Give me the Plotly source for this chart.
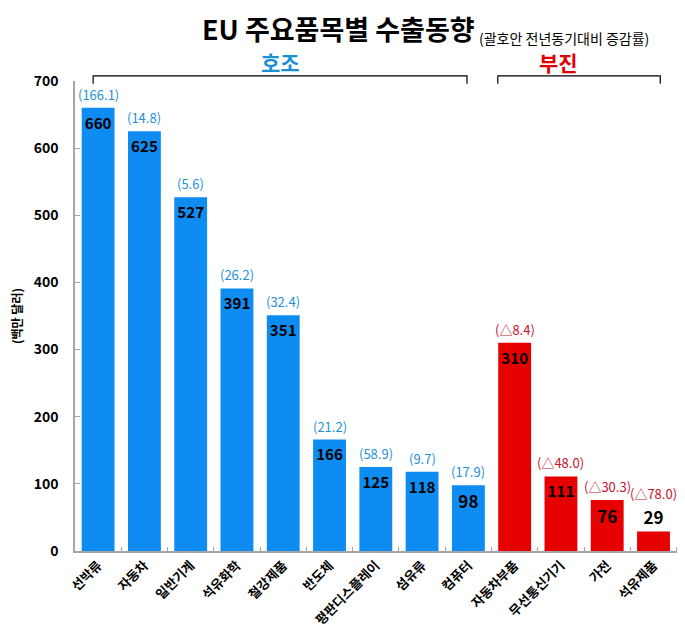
"""
EU 주요품목별 수출동향 bar chart.
"""

import plotly.graph_objects as go

# Data
ITEMS = ['선박류', '자동차', '일반기계', '석유화학', '철강제품', '반도체', '평판디스플레이',
         '섬유류', '컴퓨터', '자동차부품', '무선통신기기', '가전', '석유제품']
EXPORTS = [660, 625, 527, 391, 351, 166, 125, 118, 98, 310, 111, 76, 29]
GROWTH = ['(166.1)', '(14.8)', '(5.6)', '(26.2)', '(32.4)', '(21.2)', '(58.9)',
          '(9.7)', '(17.9)', '(△8.4)', '(△48.0)', '(△30.3)', '(△78.0)']
GROUP = ['호조'] * 9 + ['부진'] * 4
Y_TICKS = [0, 100, 200, 300, 400, 500, 600, 700]

FONT = 'Noto Sans CJK KR'
BLUE = '#0f8cf2'
RED = '#e60000'
BLUE_TXT = '#1f8fd8'
RED_TXT = '#c8102e'

bar_colors = [BLUE if g == '호조' else RED for g in GROUP]
# small bars get the value written above them
positions = ['inside' if v > 60 else 'outside' for v in EXPORTS]

fig = go.Figure(go.Bar(
    x=ITEMS,
    y=EXPORTS,
    marker=dict(color=bar_colors, line=dict(width=0)),
    text=[str(v) for v in EXPORTS],
    textposition=positions,
    insidetextanchor='end',
    textangle=0,
    textfont=dict(family=FONT, size=17, color='black', weight='bold'),
    cliponaxis=False,
    width=0.71,
))

for item, val, g, pos, lab in zip(ITEMS, EXPORTS, GROUP, positions, GROWTH):
    fig.add_annotation(
        x=item, y=val, xref='x', yref='y',
        text=lab, showarrow=False, yanchor='bottom',
        yshift=2 if pos == 'inside' else 27,
        font=dict(family=FONT, size=13, color=BLUE_TXT if g == '호조' else RED_TXT),
    )

# group brackets
def bracket(x0, x1, label, color):
    fig.add_shape(type='path', xref='paper', yref='paper',
                  path=f'M {x0} 0.994 L {x0} 1.011 L {x1} 1.011 L {x1} 0.994',
                  line=dict(color='black', width=1.2))
    fig.add_annotation(x=(x0 + x1) / 2, y=1.006, xref='paper', yref='paper',
                       text=f'<b>{label}</b>', showarrow=False, yanchor='bottom',
                       borderpad=0,
                       font=dict(family=FONT, size=21, color=color))

bracket(0.03, 0.649, '호조', '#1a8fd6')
bracket(0.70, 0.969, '부진', '#e00000')

fig.add_annotation(
    x=0.437, y=1.069, xref='paper', yref='paper', xanchor='center', yanchor='bottom',
    text='<b>EU 주요품목별 수출동향</b>', showarrow=False, borderpad=0,
    font=dict(family=FONT, size=27, color='black'),
)
fig.add_annotation(
    x=0.952, y=1.069, xref='paper', yref='paper', xanchor='right', yanchor='bottom',
    text='(괄호안 전년동기대비 증감률)', showarrow=False, borderpad=0,
    font=dict(family=FONT, size=14, color='black'),
)

fig.update_layout(
    width=677, height=630,
    template='plotly_white',
    plot_bgcolor='white',
    paper_bgcolor='white',
    showlegend=False,
    margin=dict(l=67, r=6, t=73, b=87),
    font=dict(family=FONT, color='black'),
)
fig.update_xaxes(
    showgrid=False, showline=True, linecolor='#a6a6a6', linewidth=1.5,
    ticks='inside', tickson='boundaries', ticklen=4, tickcolor='#a6a6a6',
    tickangle=-45, tickfont=dict(family=FONT, size=13, weight='bold'),
)
fig.update_yaxes(
    range=[0, 700], tickvals=Y_TICKS, showgrid=False, zeroline=False,
    showline=True, linecolor='#a6a6a6', linewidth=1.5,
    ticks='inside', ticklen=5, tickcolor='#a6a6a6',
    ticklabelstandoff=12,
    tickfont=dict(family=FONT, size=14, weight='bold'),
    title=dict(text='<b>(백만 달러)</b>', font=dict(family=FONT, size=12), standoff=12),
)

fig.write_html('out.html')
